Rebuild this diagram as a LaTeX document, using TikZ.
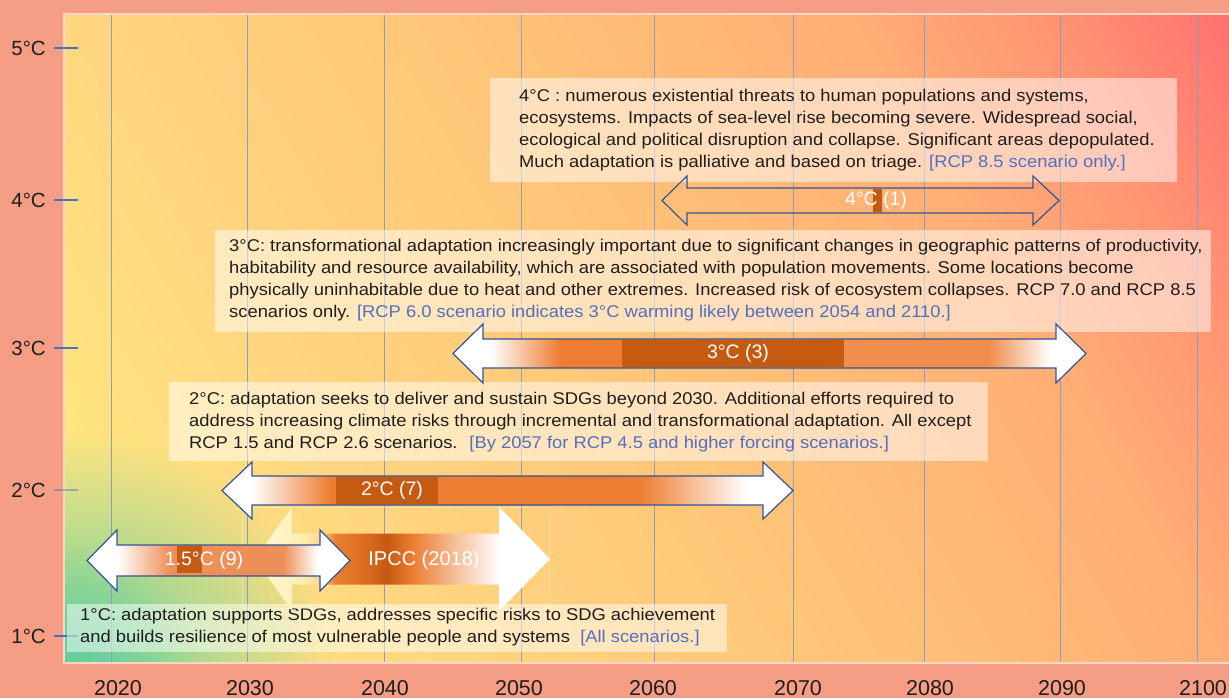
\documentclass[tikz,border=0pt]{standalone}
\usepackage{fontspec}
\setmainfont{Liberation Sans}
\newfontfamily\notefont[FakeStretch=1.08]{Liberation Sans}
\usetikzlibrary{fadings}

\definecolor{salmon}{RGB}{246,157,134}
\definecolor{frameline}{RGB}{250,214,200}
\definecolor{gridline}{RGB}{140,156,188}
\definecolor{tickblue}{RGB}{68,114,196}
\definecolor{arrowblue}{RGB}{52,84,150}
\definecolor{darkorange}{RGB}{197,90,17}
\definecolor{scen}{RGB}{85,110,190}
\definecolor{inktext}{RGB}{30,30,30}
\definecolor{blobgreen}{RGB}{100,206,158}

% background and arrow fades
\pgfdeclarehorizontalshading{bgshade}{100bp}{rgb(0bp)=(1,0.93,0.5); rgb(25bp)=(1,0.93,0.5); rgb(37.2bp)=(1,0.84,0.5); rgb(50bp)=(1,0.77,0.47); rgb(62.8bp)=(1,0.68,0.46); rgb(69bp)=(1,0.58,0.45); rgb(75bp)=(1,0.44,0.44); rgb(100bp)=(1,0.44,0.44)}
\pgfdeclarehorizontalshading{threefade}{100bp}{rgb(0bp)=(1,1,1); rgb(27.9bp)=(1,1,1); rgb(33.5bp)=(0.93,0.49,0.19); rgb(38.3bp)=(0.93,0.49,0.19); rgb(55.9bp)=(0.94,0.56,0.3); rgb(67.4bp)=(0.94,0.56,0.3); rgb(72.2bp)=(1,1,1); rgb(100bp)=(1,1,1)}
\pgfdeclarehorizontalshading{twofade}{100bp}{rgb(0bp)=(1,1,1); rgb(27.6bp)=(1,1,1); rgb(34.5bp)=(0.93,0.49,0.19); rgb(61.6bp)=(0.93,0.49,0.19); rgb(71bp)=(1,1,1); rgb(100bp)=(1,1,1)}
\pgfdeclarehorizontalshading{onefade}{100bp}{rgb(0bp)=(1,1,1); rgb(30.7bp)=(1,1,1); rgb(40.8bp)=(0.93,0.56,0.35); rgb(62.3bp)=(0.93,0.56,0.35); rgb(68.9bp)=(1,1,1); rgb(100bp)=(1,1,1)}
\pgfdeclarehorizontalshading{ipccfade}{100bp}{rgb(0bp)=(1,0.97,0.85); rgb(25bp)=(1,0.97,0.85); rgb(32.6bp)=(1,0.94,0.7); rgb(36bp)=(0.98,0.85,0.6); rgb(38.6bp)=(0.92,0.5,0.2); rgb(44bp)=(0.85,0.42,0.12); rgb(47.4bp)=(0.77,0.35,0.07); rgb(51.6bp)=(0.92,0.49,0.19); rgb(57bp)=(0.95,0.68,0.5); rgb(66.5bp)=(1,1,1); rgb(100bp)=(1,1,1)}
\tikzfading[name=softblob, inner color=transparent!0, outer color=transparent!100]

\tikzset{
  gridyear/.style={gridline, line width=0.9pt},
  degtick/.style={tickblue, line width=1.2pt},
  ticklabel/.style={font=\fontsize{20.5}{24}\selectfont, text=inktext, inner sep=0pt},
  yearlabel/.style={font=\fontsize{21.5}{24}\selectfont, text=inktext, inner sep=0pt},
  notebox/.style={fill=white, fill opacity=0.5},
  notetext/.style={font=\notefont\fontsize{17}{22}\selectfont, text=inktext, align=left, anchor=west, inner sep=0pt},
  blockarrow/.style={draw=arrowblue, line width=1.2pt, line join=miter},
  arrowlabel/.style={font=\fontsize{19.5}{22}\selectfont, text=white, inner sep=0pt},
}

\begin{document}
\begin{tikzpicture}[x=1pt, y=-1pt]
  \useasboundingbox (0,0) rectangle (1229,698);
  \fill[salmon] (0,0) rectangle (1229,698);

  % plot area
  \begin{scope}
    \clip (64,14) rectangle (1229,663);
    \begin{scope}[transform canvas={rotate around={30:(646.5,338.5)}}]
      \shade[shading=bgshade] (-21.5,-329.5) rectangle (1314.5,1006.5);
    \end{scope}
    \fill[blobgreen, path fading=softblob] (64,663) ellipse [x radius=270, y radius=230];
    \fill[blobgreen, path fading=softblob, opacity=0.7] (64,663) ellipse [x radius=130, y radius=120];
  \end{scope}

  \foreach \gx in {111,247,384,521,654,793,924,1060,1197}
    \draw[gridyear] (\gx,14) -- (\gx,663);
  \draw[frameline, line width=1.5pt] (1229,14) -- (64,14) -- (64,663) -- (1229,663);

  % axes
  \foreach \ty/\tl/\op in {48/5/1, 200/4/1, 348/3/1, 490/2/0.45, 636/1/1} {
    \draw[degtick, opacity=\op] (54,\ty) -- (78,\ty);
    \node[ticklabel, anchor=east] (deg\tl) at (46,\ty) {\tl°C};
  }
  \foreach \yx/\yr in {118/2020, 250/2030, 385/2040, 519/2050, 653/2060, 798/2070, 930/2080, 1062/2090, 1203/2100}
    \node[yearlabel] (yr\yr) at (\yx,688) {\yr};

  % notes
  \fill[notebox] (490,78) rectangle (1177,182);
  \fill[notebox] (215,230) rectangle (1211,332);
  \fill[notebox] (169,382) rectangle (988,461);
  \fill[notebox] (67,604) rectangle (727,652);

  \node[notetext] (note4) at (519,130.5) {4°C : numerous existential threats to human populations and systems,\\
    ecosystems. Impacts of sea-level rise becoming severe. Widespread social,\\
    ecological and political disruption and collapse. Significant areas depopulated.\\
    Much adaptation is palliative and based on triage. {\color{scen}[RCP 8.5 scenario only.]}};
  \node[notetext] (note3) at (229,280.5) {3°C: transformational adaptation increasingly important due to significant changes in geographic patterns of productivity,\\
    habitability and resource availability, which are associated with population movements. Some locations become\\
    physically uninhabitable due to heat and other extremes. Increased risk of ecosystem collapses. RCP 7.0 and RCP 8.5\\
    scenarios only. {\color{scen}[RCP 6.0 scenario indicates 3°C warming likely between 2054 and 2110.]}};
  \node[notetext] (note2) at (189,422.5) {2°C: adaptation seeks to deliver and sustain SDGs beyond 2030. Additional efforts required to\\
    address increasing climate risks through incremental and transformational adaptation. All except\\
    RCP 1.5 and RCP 2.6 scenarios. \ {\color{scen}[By 2057 for RCP 4.5 and higher forcing scenarios.]}};
  \node[notetext] (note1) at (80,627.5) {1°C: adaptation supports SDGs, addresses specific risks to SDG achievement\\
    and builds resilience of most vulnerable people and systems \ {\color{scen}[All scenarios.]}};

  % arrows
  \draw[white, opacity=0.3, line width=0.6pt] (242,507) rectangle (549,608);
  \shade[shading=ipccfade] (255,559) -- (292,507) -- (292,533.5) -- (499,533.5) -- (499,507) -- (550,559)
    -- (499,611) -- (499,584.5) -- (292,584.5) -- (292,611) -- cycle;
  \node[arrowlabel, font=\fontsize{20}{22}\selectfont] (labipcc) at (424,560) {IPCC (2018)};

  \shadedraw[blockarrow, shading=onefade] (87,560.5) -- (117,530) -- (117,545) -- (320,545) -- (320,530) -- (350,560.5)
    -- (320,591) -- (320,576) -- (117,576) -- (117,591) -- cycle;
  \fill[darkorange] (177,546) rectangle (202,573);
  \node[arrowlabel] (lab15) at (204,560.5) {1.5°C (9)};

  \shadedraw[blockarrow, shading=twofade] (222,490.5) -- (252,462) -- (252,476) -- (763,476) -- (763,462) -- (793,490.5)
    -- (763,519) -- (763,505) -- (252,505) -- (252,519) -- cycle;
  \fill[darkorange] (336,476.6) rectangle (438,504.4);
  \node[arrowlabel] (lab2) at (392,490.5) {2°C (7)};

  \shadedraw[blockarrow, shading=threefade] (453,353.5) -- (483,324) -- (483,339) -- (1056,339) -- (1056,324) -- (1086,353.5)
    -- (1056,383) -- (1056,368) -- (483,368) -- (483,383) -- cycle;
  \fill[darkorange] (622,339.6) rectangle (844,367.4);
  \node[arrowlabel] (lab3) at (738,353.5) {3°C (3)};

  \draw[blockarrow] (662,200.5) -- (687,176) -- (687,188) -- (1033,188) -- (1033,176) -- (1059,200.5)
    -- (1033,225) -- (1033,213) -- (687,213) -- (687,225) -- cycle;
  \fill[darkorange] (873,188.6) rectangle (882,212.4);
  \node[arrowlabel] (lab4) at (876,200.5) {4°C (1)};
\end{tikzpicture}
\end{document}
